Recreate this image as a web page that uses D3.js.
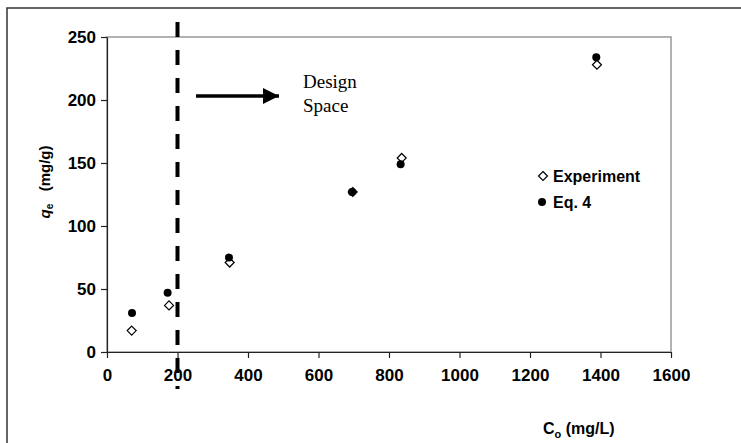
<!DOCTYPE html>
<html>
<head>
<meta charset="utf-8">
<script src="https://cdn.jsdelivr.net/npm/d3@7"></script>
<style>
  body { margin: 0; background: #fff; }
  svg { display: block; font-family: "Liberation Sans", Arial, sans-serif; }
</style>
</head>
<body>
<svg id="chart" width="741" height="443"></svg>
<script>
// data
var expX = [70, 176, 348, 697, 836, 1390];
var expY = [17, 37, 71, 127, 154, 228];
var eqX = [71, 172, 346, 695, 833, 1388];
var eqY = [31, 47, 75, 127, 149, 234];
var xTicks = [0, 200, 400, 600, 800, 1000, 1200, 1400, 1600];
var yTicks = [0, 50, 100, 150, 200, 250];
var designLimit = 200;

var svg = d3.select("#chart");
var margin = {left: 107, right: 70, top: 37, bottom: 91};
var width = 741, height = 443;

var x = d3.scaleLinear().domain([0, 1600]).range([margin.left, width - margin.right]);
var y = d3.scaleLinear().domain([0, 250]).range([height - margin.bottom, margin.top]);

// outer frame
svg.append("rect")
  .attr("x", 7).attr("y", 8)
  .attr("width", 760).attr("height", 460)
  .attr("fill", "none").attr("stroke", "#333").attr("stroke-width", 1.5);

// plot frame
svg.append("rect")
  .attr("x", x(0)).attr("y", y(250))
  .attr("width", x(1600) - x(0)).attr("height", y(0) - y(250))
  .attr("fill", "none").attr("stroke", "#999").attr("stroke-width", 1.5);

var xAxis = svg.append("g")
  .attr("transform", `translate(0,${y(0)})`)
  .call(d3.axisBottom(x).tickValues(xTicks).tickFormat(d3.format("d"))
    .tickSize(6).tickPadding(11).tickSizeOuter(0));

var yAxis = svg.append("g")
  .attr("transform", `translate(${x(0)},0)`)
  .call(d3.axisLeft(y).tickValues(yTicks).tickFormat(d3.format("d"))
    .tickSize(6).tickPadding(5).tickSizeOuter(0));

[xAxis, yAxis].forEach(function(g) {
  g.select(".domain").attr("stroke", "#222").attr("stroke-width", 1.2);
  g.selectAll(".tick line").attr("stroke", "#222").attr("stroke-width", 1.2);
  g.selectAll(".tick text")
    .attr("fill", "#000")
    .style("font-size", "17px")
    .style("font-weight", "bold");
});
yAxis.selectAll(".tick text").attr("dy", "0.35em");

// design-space boundary
svg.append("line")
  .attr("x1", x(designLimit)).attr("x2", x(designLimit))
  .attr("y1", 22).attr("y2", 389)
  .attr("stroke", "#000").attr("stroke-width", 4)
  .attr("stroke-dasharray", "15,13");

// arrow
svg.append("defs").append("marker")
  .attr("id", "head")
  .attr("viewBox", "0 0 10 10")
  .attr("refX", 10).attr("refY", 5)
  .attr("markerWidth", 20).attr("markerHeight", 16)
  .attr("markerUnits", "userSpaceOnUse")
  .attr("orient", "auto")
  .append("path").attr("d", "M0,0L10,5L0,10Z").attr("fill", "#000");

svg.append("line")
  .attr("x1", 196).attr("x2", 279)
  .attr("y1", 96).attr("y2", 96)
  .attr("stroke", "#000").attr("stroke-width", 3.5)
  .attr("marker-end", "url(#head)");

var design = svg.append("text")
  .attr("x", 303).attr("y", 88)
  .style("font-family", "'Liberation Serif', 'Times New Roman', serif")
  .style("font-size", "19px");
design.append("tspan").attr("x", 303).text("Design");
design.append("tspan").attr("x", 303).attr("dy", 24).text("Space");

// markers
function diamond(g, cx, cy) {
  g.append("path")
    .attr("d", `M${cx},${cy - 4.5}L${cx + 4.5},${cy}L${cx},${cy + 4.5}L${cx - 4.5},${cy}Z`)
    .attr("fill", "#fff").attr("stroke", "#000").attr("stroke-width", 1.2);
}

var pts = svg.append("g");
expX.forEach(function(v, i) {
  diamond(pts, x(v), y(expY[i]));
});
eqX.forEach(function(v, i) {
  pts.append("circle")
    .attr("cx", x(v)).attr("cy", y(eqY[i]))
    .attr("r", 4).attr("fill", "#000");
});

// legend
var legend = svg.append("g").style("font-size", "16px").style("font-weight", "bold");
diamond(legend, 543, 176);
legend.append("text").attr("x", 553).attr("y", 182).text("Experiment");
legend.append("circle").attr("cx", 542).attr("cy", 202).attr("r", 4).attr("fill", "#000");
legend.append("text").attr("x", 553).attr("y", 208).text("Eq. 4");

// axis titles
var yt = svg.append("text")
  .attr("transform", "translate(50,182) rotate(-90)")
  .attr("text-anchor", "middle")
  .style("font-size", "15px")
  .style("font-weight", "bold");
yt.append("tspan").style("font-style", "italic").text("q");
yt.append("tspan").attr("dy", 3).style("font-size", "10px").text("e");
yt.append("tspan").attr("dy", -3).attr("xml:space", "preserve").text("   (mg/g)");

var xt = svg.append("text")
  .attr("x", 543).attr("y", 434)
  .style("font-size", "16px")
  .style("font-weight", "bold");
xt.append("tspan").text("C");
xt.append("tspan").attr("dy", 4).style("font-size", "11px").text("o");
xt.append("tspan").attr("dy", -4).text(" (mg/L)");
</script>
</body>
</html>
